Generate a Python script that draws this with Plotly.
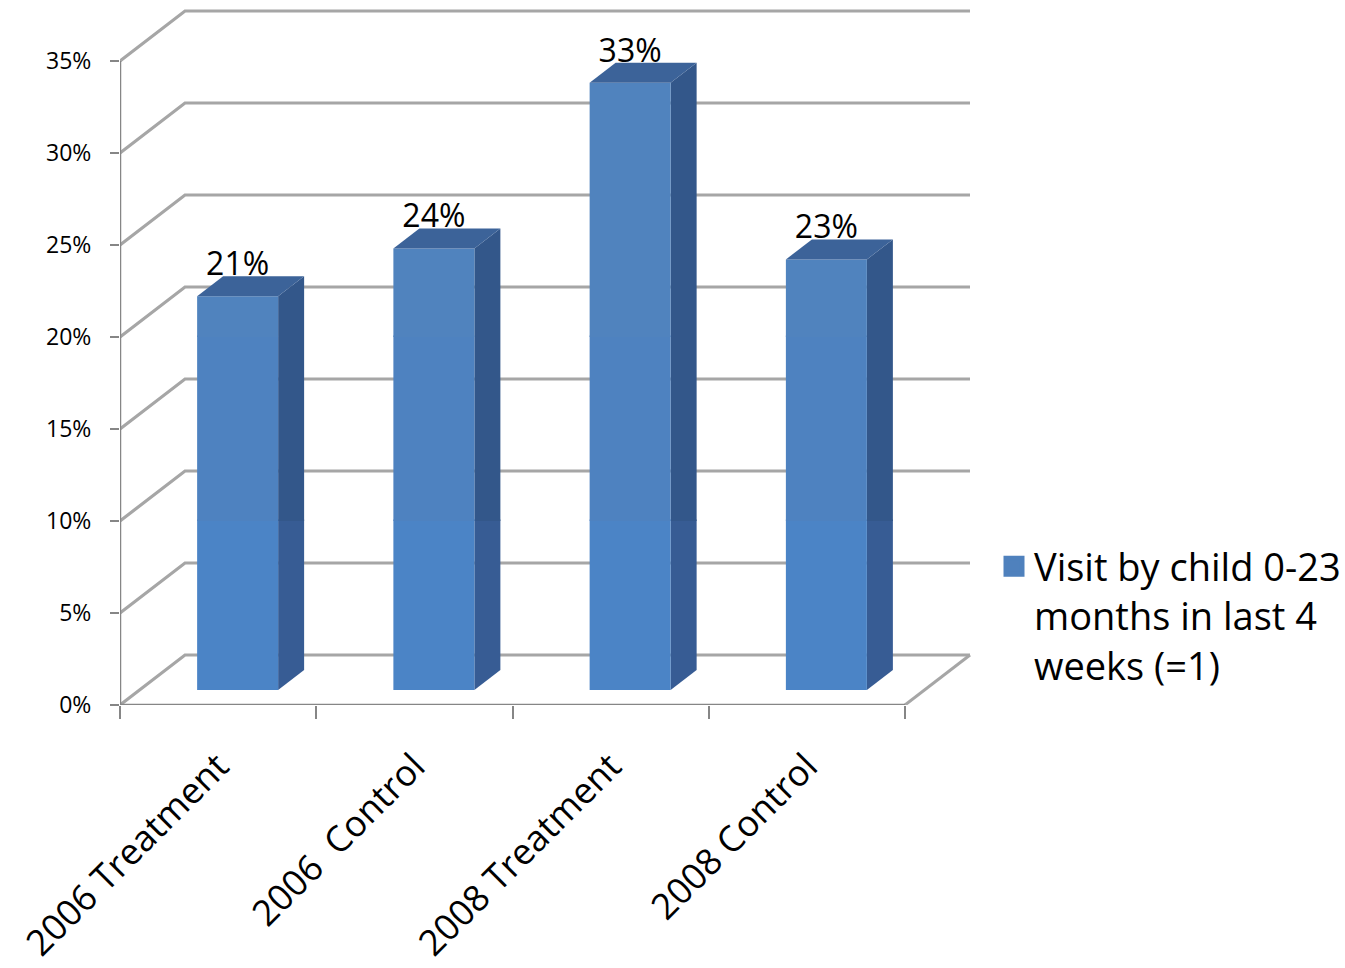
import plotly.graph_objects as go

# ---- data ----
categories = ["2006 Treatment", "2006  Control", "2008 Treatment", "2008 Control"]
visit_share = [0.214, 0.240, 0.330, 0.234]
y_tick_values = [0.00, 0.05, 0.10, 0.15, 0.20, 0.25, 0.30, 0.35]
y_tick_labels = ["0%", "5%", "10%", "15%", "20%", "25%", "30%", "35%"]
series_name = "Visit by child 0-23<br>months in last 4<br>weeks (=1)"

# ---- geometry of the pseudo-3D box (in axis units) ----
W, H = 1345, 968
PLOT_L, PLOT_R, PLOT_T, PLOT_B = 120, 972, 0, 705
PX_PER_CAT = 196.25          # pixels per category slot
PX_PER_UNIT = 1840.0         # pixels per 1.0 (100%)
DEPTH_X = 65 / PX_PER_CAT    # horizontal shift of the back wall
DEPTH_Y = 50 / PX_PER_UNIT   # vertical shift of the back wall
BAR_W = 81 / PX_PER_CAT
BAR_FRONT, BAR_BACK = 0.30, 0.70   # bar position inside the depth
LABEL_DROP = 7 / PX_PER_UNIT       # value labels sit close to the bar top
SEAM = 1.5 / PX_PER_UNIT           # overlap between colour bands

AXIS_COLOR = "#868686"
GRID_COLOR = "#a6a6a6"
FONT = "Open Sans"

n = len(categories)
fig = go.Figure()


def add_line(xs, ys, color, width):
    fig.add_trace(go.Scatter(x=xs, y=ys, mode="lines",
                             line=dict(color=color, width=width),
                             hoverinfo="skip", showlegend=False,
                             cliponaxis=False))


def add_poly(xs, ys, color):
    fig.add_trace(go.Scatter(x=xs + [xs[0]], y=ys + [ys[0]], mode="lines",
                             fill="toself", fillcolor=color,
                             line=dict(width=0, color=color),
                             hoverinfo="skip", showlegend=False))


# gridlines: side-wall diagonal + back-wall horizontal
gx, gy = [], []
for v in y_tick_values:
    gx += [0, DEPTH_X, n + DEPTH_X, None]
    gy += [v, v + DEPTH_Y, v + DEPTH_Y, None]
add_line(gx, gy, GRID_COLOR, 3.2)

# floor right edge
add_line([n, n + DEPTH_X], [0, DEPTH_Y], GRID_COLOR, 3)

# front axis lines
add_line([0, n], [0, 0], AXIS_COLOR, 2.5)
add_line([0, 0], [0, y_tick_values[-1]], AXIS_COLOR, 2.5)

# colour bands of the bar faces (lower part renders a touch brighter)
front_bands = [(0.0, 0.10, "#4b84c6"), (0.10, 0.20, "#4e82c0"), (0.20, 1.0, "#5083be")]
side_bands = [(0.0, 0.10, "#375c94"), (0.10, 1.0, "#33578a")]
TOP_COLOR = "#3c6399"

for i, v in enumerate(visit_share):
    cx = i + 0.5
    xl0 = cx - BAR_W / 2 + BAR_FRONT * DEPTH_X
    xr0 = cx + BAR_W / 2 + BAR_FRONT * DEPTH_X
    xl1 = cx - BAR_W / 2 + BAR_BACK * DEPTH_X
    xr1 = cx + BAR_W / 2 + BAR_BACK * DEPTH_X
    b0, b1 = BAR_FRONT * DEPTH_Y, BAR_BACK * DEPTH_Y
    t0, t1 = v + b0, v + b1

    # right side face
    for lo, hi, col in side_bands:
        hi = hi + SEAM
        ya0, ya1 = max(b0, lo), min(t0, hi)
        yb0, yb1 = max(b1, lo), min(t1, hi)
        if ya1 > ya0:
            add_poly([xr0, xr1, xr1, xr0], [ya0, yb0, yb1, ya1], col)
    # front face
    for lo, hi, col in front_bands:
        hi = hi + SEAM
        y0, y1 = max(b0, lo), min(t0, hi)
        if y1 > y0:
            add_poly([xl0, xr0, xr0, xl0], [y0, y0, y1, y1], col)
    # top face
    add_poly([xl0, xr0, xr1, xl1], [t0, t0, t1, t1], TOP_COLOR)

# value labels above each bar
fig.add_trace(go.Scatter(
    x=[i + 0.5 + BAR_FRONT * DEPTH_X for i in range(n)],
    y=[v + BAR_BACK * DEPTH_Y - LABEL_DROP for v in visit_share],
    mode="text", text=[f"{v:.0%}" for v in visit_share],
    textposition="top center",
    textfont=dict(family=FONT, size=32, color="#000000"),
    hoverinfo="skip", showlegend=False, cliponaxis=False))

# legend entry
fig.add_trace(go.Scatter(
    x=[None], y=[None], mode="markers", name=series_name,
    marker=dict(symbol="square", size=16, color="#4f81bd",
                line=dict(width=5, color="#4f81bd")),
    showlegend=True))

x_max = (PLOT_R - PLOT_L) / PX_PER_CAT
y_max = (PLOT_B - PLOT_T) / PX_PER_UNIT

fig.update_layout(
    width=W, height=H,
    margin=dict(l=PLOT_L, r=W - PLOT_R, t=PLOT_T, b=H - PLOT_B, pad=0,
                autoexpand=False),
    paper_bgcolor="white", plot_bgcolor="white",
    font=dict(family=FONT, color="#000000"),
    showlegend=True,
    legend=dict(x=(994 - PLOT_L) / (PLOT_R - PLOT_L), xanchor="left",
                y=(PLOT_B - 535) / (PLOT_B - PLOT_T), yanchor="top",
                valign="top", font=dict(family=FONT, size=38, color="#000000"),
                bgcolor="rgba(0,0,0,0)", borderwidth=0),
    xaxis=dict(range=[0, x_max], showgrid=False, zeroline=False, showline=False,
               automargin=False,
               tickmode="array", tickvals=[i + 0.5 for i in range(n)],
               ticktext=categories, ticks="", tickangle=-45,
               tickfont=dict(family=FONT, size=36, color="#000000"),
               ticklabelstandoff=32,
               minor=dict(tickmode="linear", tick0=0, dtick=1, ticks="outside",
                          ticklen=13, tickwidth=2, tickcolor=AXIS_COLOR),
               fixedrange=True),
    yaxis=dict(range=[0, y_max], showgrid=False, zeroline=False, showline=False,
               automargin=False,
               tickmode="array", tickvals=y_tick_values, ticktext=y_tick_labels,
               ticks="outside", ticklen=9, tickwidth=2, tickcolor=AXIS_COLOR,
               tickfont=dict(family=FONT, size=23, color="#000000"),
               ticklabelstandoff=14, fixedrange=True),
)

fig.write_html("out.html")
